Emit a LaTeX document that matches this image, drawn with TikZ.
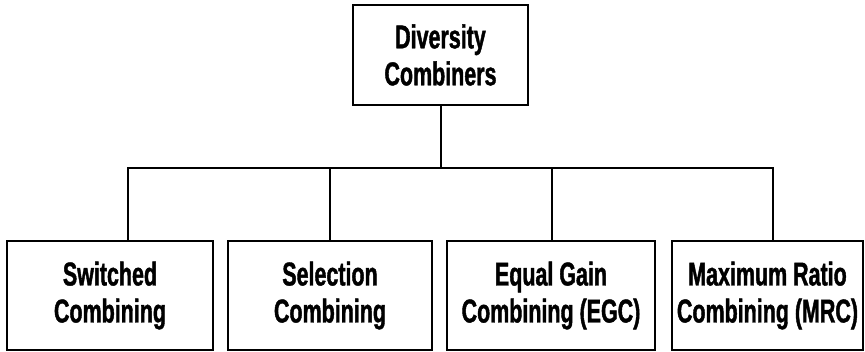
\documentclass[tikz,border=0pt]{standalone}
\usepackage{fontspec}
\newfontfamily\labelfont{Liberation Sans}[FakeStretch=0.65, FakeBold=1.2]
\begin{document}
\begin{tikzpicture}[x=1pt,y=-1pt,
  line width=2.8pt,
  box/.style={draw=black, rectangle, inner sep=0pt, align=center,
    font=\labelfont\bfseries\fontsize{33}{37}\selectfont},
  link/.style={draw=black, line width=2.6pt}]
  \useasboundingbox (0,0) rectangle (865,352);

  % root of the tree
  \node[box, minimum width=175pt, minimum height=100pt] (root) at (440.5,55) {Diversity\\Combiners};

  % the four combiner types
  \node[box, minimum width=206pt, minimum height=109pt] (sw)  at (110,295.5)   {Switched\\Combining};
  \node[box, minimum width=204pt, minimum height=109pt] (sel) at (330,295.5)   {Selection\\Combining};
  \node[box, minimum width=208pt, minimum height=109pt] (egc) at (551,295.5)   {Equal Gain\\Combining (EGC)};
  \node[box, minimum width=191pt, minimum height=109pt] (mrc) at (767.5,295.5) {Maximum Ratio\\Combining (MRC)};

  % bus line shared by the branches
  \coordinate (bus) at (441,168);
  \coordinate (swtop)  at ([xshift=18pt]sw.north);
  \coordinate (mrctop) at ([xshift=5.5pt]mrc.north);

  \draw[link] ([xshift=0.5pt]root.south) -- ([xshift=0.5pt]root.south |- bus);
  \draw[link] (swtop) -- (swtop |- bus) -- (mrctop |- bus) -- (mrctop);
  \draw[link] (sel.north) -- (sel.north |- bus);
  \draw[link] ([xshift=1pt]egc.north) -- ([xshift=1pt]egc.north |- bus);
\end{tikzpicture}
\end{document}
